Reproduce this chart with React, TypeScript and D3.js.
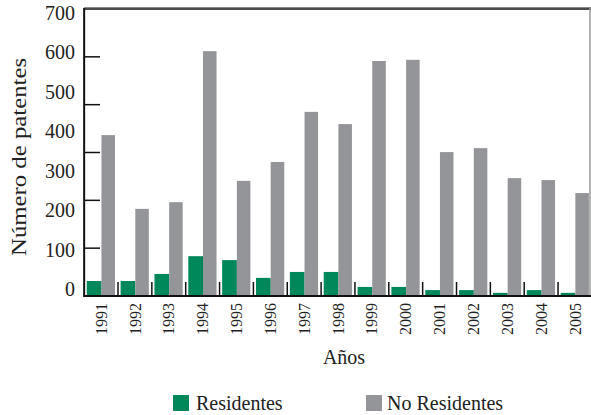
import React from "react";
import * as d3 from "d3";

const years = ["1991","1992","1993","1994","1995","1996","1997","1998","1999","2000","2001","2002","2003","2004","2005"];
const residentes = [38, 38, 56, 101, 91, 46, 61, 61, 23, 23, 15, 15, 8, 15, 8];
const noResidentes = [408, 221, 238, 621, 292, 340, 467, 436, 596, 599, 365, 375, 299, 294, 261];
const yTickLabels = [0, 100, 200, 300, 400, 500, 600, 700];
const yTickMarks = [1, 2, 3, 4, 5];

const GREEN = "#00875a";
const GRAY = "#939598";
const FONT = "'Liberation Serif', 'Times New Roman', serif";

export default function App() {
  const W = 591, H = 415;
  const left = 84.15, right = 591.9, base = 296, top = 9;
  const x = d3.scaleBand<string>().domain(years).range([left, right]).padding(0);
  const bw = x.bandwidth();
  const y = d3.scaleLinear().domain([0, 700]).range([base, 20]);
  const tickY = d3.scaleLinear().domain([0, 6]).range([base, top]);

  return (
    <svg width={W} height={H} style={{ position: "absolute", left: 0, top: 0, background: "#fff" }} fontFamily={FONT}>
      <rect x={0} y={0} width={W} height={H} fill="#fff" />
      {/* bars */}
      {years.map((yr, i) => {
        const x0 = x(yr)!;
        return (
          <g key={yr}>
            <rect x={x0 + bw * 0.077} width={bw * 0.435} y={y(residentes[i])} height={base - y(residentes[i])} fill={GREEN} />
            <rect x={x0 + bw * 0.511} width={bw * 0.40} y={y(noResidentes[i])} height={base - y(noResidentes[i])} fill={GRAY} />
          </g>
        );
      })}
      {/* frame */}
      <line x1={left} x2={W} y1={7.5} y2={7.5} stroke="#888" strokeWidth={1} />
      <line x1={left} x2={W} y1={top} y2={top} stroke="#111" strokeWidth={1.6} />
      <line x1={590} x2={590} y1={8} y2={base} stroke="#999" strokeWidth={1.5} />
      <line x1={left} x2={left} y1={8} y2={base + 1} stroke="#111" strokeWidth={2} />
      <line x1={left} x2={W} y1={base} y2={base} stroke="#111" strokeWidth={2} />
      {/* y tick marks */}
      {yTickMarks.map((k) => (
        <line key={k} x1={left} x2={100} y1={tickY(k)} y2={tickY(k)} stroke="#111" strokeWidth={1.5} />
      ))}
      {/* x tick marks at boundaries */}
      {years.slice(1).map((yr) => (
        <line key={yr} x1={x(yr)!} x2={x(yr)!} y1={282} y2={base} stroke="#111" strokeWidth={1.5} />
      ))}
      {/* y tick labels */}
      {yTickLabels.map((v) => (
        <text key={v} x={75} y={y(v) - 7} dy="0.35em" textAnchor="end" fontSize={20} fill="#222">{v}</text>
      ))}
      {/* x labels */}
      {years.map((yr) => (
        <text key={yr} transform={`translate(${x(yr)! + bw / 2},303) rotate(-90)`} dy="0.35em" textAnchor="end" fontSize={16} fill="#222">{yr}</text>
      ))}
      {/* axis titles */}
      <text transform="translate(26,157) rotate(-90)" textAnchor="middle" fontSize={22} textLength={198} lengthAdjust="spacingAndGlyphs" fill="#222">Número de patentes</text>
      <text x={344} y={364} textAnchor="middle" fontSize={20} fill="#222">Años</text>
      {/* legend */}
      <rect x={173} y={395} width={16} height={16} fill={GREEN} />
      <text x={196} y={410} fontSize={20} fill="#222">Residentes</text>
      <rect x={366} y={395} width={16} height={16} fill={GRAY} />
      <text x={387} y={410} fontSize={20} fill="#222">No Residentes</text>
    </svg>
  );
}
